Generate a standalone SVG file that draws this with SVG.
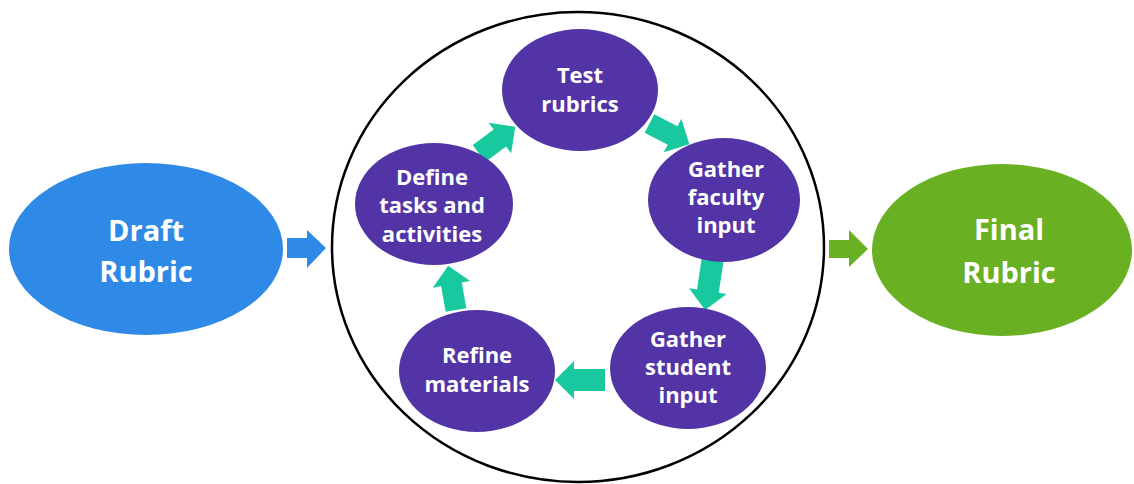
<svg xmlns="http://www.w3.org/2000/svg" width="1134" height="484" viewBox="0 0 1134 484">
  <defs>
    <style>
      .lbl { font-family: "Open Sans", "Liberation Sans", sans-serif; font-weight: 700; fill: #ffffff; text-anchor: middle; }
      .big { font-size: 29px; }
      .small { font-size: 22px; }
      .step { fill: #5234a6; }
      .cyc { fill: #18c9a0; }
    </style>
    <!-- block arrow pointing along +x, tail centred at origin -->
    <path id="cycArrow" d="M0,-10.5 H26 V-19 L45,0 L26,19 V10.5 H0 Z"/>
    <path id="cycArrowLong" d="M0,-11 H31 V-19 L50,0 L31,19 V11 H0 Z"/>
  </defs>

  <rect width="1134" height="484" fill="#ffffff"/>

  <!-- enclosing process loop -->
  <ellipse cx="578" cy="247" rx="246" ry="235" fill="none" stroke="#000000" stroke-width="2.5"/>

  <g id="connectors">
    <!-- flow in / out of the loop -->
    <path d="M287,238 H307 V230 L326,248 L307,268 V258 H287 Z" fill="#2e8ae6"/>
    <path d="M829,240 H849 V230 L868,249 L849,267 V258 H829 Z" fill="#6ab023"/>
    <!-- cycle arrows -->
    <use href="#cycArrow" class="cyc" transform="translate(479,153.5) rotate(-36.4)"/>
    <use href="#cycArrow" class="cyc" transform="translate(649.5,123.5) rotate(27.5)"/>
    <use href="#cycArrowLong" class="cyc" transform="translate(712.5,260.5) rotate(98.6)"/>
    <use href="#cycArrowLong" class="cyc" transform="translate(605,380) rotate(180)"/>
    <use href="#cycArrow" class="cyc" transform="translate(456,310) rotate(-100)"/>
  </g>

  <g id="draft">
    <ellipse cx="146" cy="249" rx="137" ry="86" fill="#2e8ae6"/>
    <text class="lbl big" x="146" y="241">Draft</text>
    <text class="lbl big" x="146" y="282">Rubric</text>
  </g>

  <g id="final">
    <ellipse cx="1002" cy="250" rx="130" ry="86" fill="#6ab023"/>
    <text class="lbl big" x="1009" y="240">Final</text>
    <text class="lbl big" x="1009" y="283">Rubric</text>
  </g>

  <g id="test">
    <ellipse class="step" cx="580" cy="90" rx="78" ry="61"/>
    <text class="lbl small" x="580" y="83">Test</text>
    <text class="lbl small" x="580" y="112">rubrics</text>
  </g>

  <g id="faculty">
    <ellipse class="step" cx="724" cy="200" rx="76" ry="62"/>
    <text class="lbl small" x="726" y="177">Gather</text>
    <text class="lbl small" x="726" y="205">faculty</text>
    <text class="lbl small" x="726" y="233">input</text>
  </g>

  <g id="student">
    <ellipse class="step" cx="688" cy="368" rx="78" ry="61"/>
    <text class="lbl small" x="688" y="347">Gather</text>
    <text class="lbl small" x="688" y="375">student</text>
    <text class="lbl small" x="688" y="403">input</text>
  </g>

  <g id="refine">
    <ellipse class="step" cx="477" cy="371" rx="78" ry="61"/>
    <text class="lbl small" x="477" y="363">Refine</text>
    <text class="lbl small" x="477" y="392">materials</text>
  </g>

  <g id="define">
    <ellipse class="step" cx="434" cy="204" rx="79" ry="61"/>
    <text class="lbl small" x="432" y="185">Define</text>
    <text class="lbl small" x="432" y="213">tasks and</text>
    <text class="lbl small" x="432" y="242">activities</text>
  </g>
</svg>
